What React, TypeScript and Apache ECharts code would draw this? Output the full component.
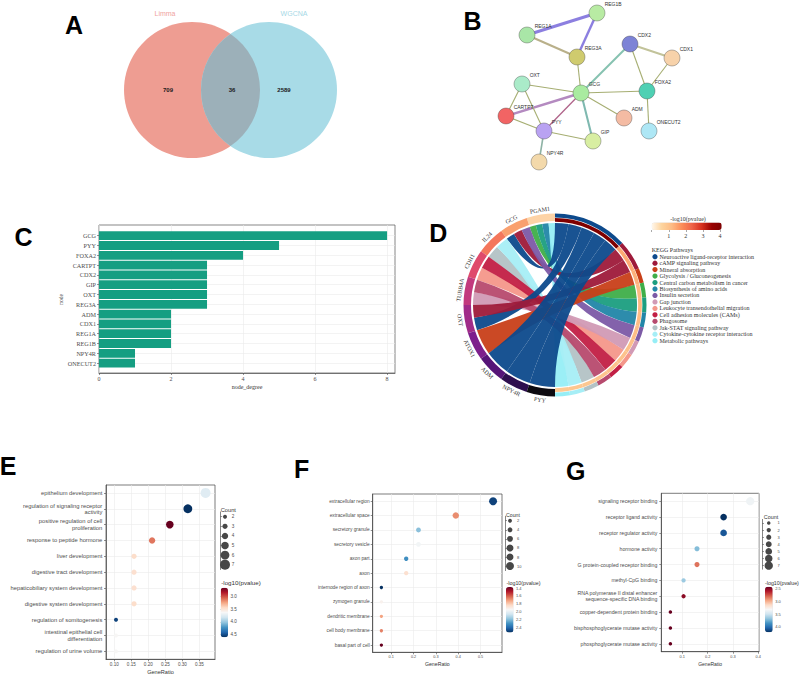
import React, { useEffect, useRef } from 'react';
import * as echarts from 'echarts';

const SANS = "'Liberation Sans', Arial, Helvetica, sans-serif";
const SERIF = "'Liberation Serif', 'Times New Roman', Times, serif";

// ---------------- A: Venn ----------------
const vennSets = ['Limma', 'WGCNA'];
const vennCounts = [709, 36, 2589]; // Limma only, shared, WGCNA only

// ---------------- B: PPI network ----------------
const netNodes = ['REG1B', 'REG1A', 'REG3A', 'CDX2', 'CDX1', 'OXT', 'GCG', 'FOXA2', 'CARTPT', 'ADM', 'PYY', 'ONECUT2', 'GIP', 'NPY4R'];
// node layout
const netNodeX = [597, 527, 577, 630, 672, 522, 581, 647, 506, 624, 544, 649, 593, 539];
const netNodeY = [13, 35, 57, 44, 58, 84, 93, 91, 116, 118, 131, 131, 141, 162];
const netEdges = [
  ['REG1B', 'REG1A'], ['REG1B', 'REG3A'], ['REG1A', 'REG3A'], ['REG3A', 'GCG'],
  ['GCG', 'CDX2'], ['CDX2', 'CDX1'], ['CDX2', 'FOXA2'], ['CDX1', 'FOXA2'],
  ['GCG', 'FOXA2'], ['FOXA2', 'ONECUT2'], ['GCG', 'OXT'], ['GCG', 'CARTPT'],
  ['GCG', 'PYY'], ['GCG', 'ADM'], ['GCG', 'GIP'], ['OXT', 'CARTPT'],
  ['OXT', 'PYY'], ['CARTPT', 'PYY'], ['PYY', 'GIP'], ['PYY', 'NPY4R'],
];

// ---------------- C: node degree ----------------
const degreeGenes = ['GCG', 'PYY', 'FOXA2', 'CARTPT', 'CDX2', 'GIP', 'OXT', 'REG3A', 'ADM', 'CDX1', 'REG1A', 'REG1B', 'NPY4R', 'ONECUT2'];
const degreeValues = [8, 5, 4, 3, 3, 3, 3, 3, 2, 2, 2, 2, 1, 1];
const degreeTicks = [0, 2, 4, 6, 8];

// ---------------- D: KEGG chord ----------------
const chordGenes = ['PGAM1', 'GCG', 'IL24', 'CDH1', 'TUBB4A', 'OXT', 'ATOX1', 'ADM', 'NPY4R', 'PYY'];
const keggPathways = [
  'Neuroactive ligand-receptor interaction', 'cAMP signaling pathway', 'Mineral absorption',
  'Glycolysis / Gluconeogenesis', 'Central carbon metabolism in cancer', 'Biosynthesis of amino acids',
  'Insulin secretion', 'Gap junction', 'Leukocyte transendothelial migration',
  'Cell adhesion molecules (CAMs)', 'Phagosome', 'Jak-STAT signaling pathway',
  'Cytokine-cytokine receptor interaction', 'Metabolic pathways',
];
const keggLog10P = [4.1, 1.4, 1.3, 1.2, 1.2, 1.15, 1.1, 1.05, 1.0, 1.0, 0.95, 0.9, 0.9, 0.85];
const chordLinks = [
  ['PGAM1', 'Glycolysis / Gluconeogenesis'], ['PGAM1', 'Central carbon metabolism in cancer'],
  ['PGAM1', 'Biosynthesis of amino acids'], ['PGAM1', 'Metabolic pathways'],
  ['GCG', 'Neuroactive ligand-receptor interaction'], ['GCG', 'cAMP signaling pathway'], ['GCG', 'Insulin secretion'],
  ['IL24', 'Jak-STAT signaling pathway'], ['IL24', 'Cytokine-cytokine receptor interaction'],
  ['CDH1', 'Leukocyte transendothelial migration'], ['CDH1', 'Cell adhesion molecules (CAMs)'],
  ['TUBB4A', 'Gap junction'], ['TUBB4A', 'Phagosome'],
  ['OXT', 'Neuroactive ligand-receptor interaction'], ['OXT', 'cAMP signaling pathway'],
  ['ATOX1', 'Mineral absorption'],
  ['ADM', 'Neuroactive ligand-receptor interaction'],
  ['NPY4R', 'Neuroactive ligand-receptor interaction'],
  ['PYY', 'Neuroactive ligand-receptor interaction'],
];
const keggScaleTicks = [0, 1, 2, 3, 4];

// ---------------- E: GO BP ----------------
const eTerms = [
  'epithelium development', 'regulation of signaling receptor\nactivity', 'positive regulation of cell\nproliferation',
  'response to peptide hormone', 'liver development', 'digestive tract development',
  'hepaticobiliary system development', 'digestive system development', 'regulation of somitogenesis',
  'intestinal epithelial cell\ndifferentiation', 'regulation of urine volume',
];
const eRatio = [0.368, 0.316, 0.263, 0.211, 0.158, 0.158, 0.158, 0.158, 0.105, 0.105, 0.105];
const eCount = [7, 6, 5, 4, 3, 3, 3, 3, 2, 2, 2];
const eLogP = [3.75, 4.62, 2.64, 3.1, 3.45, 3.47, 3.47, 3.45, 4.55, 3.62, 3.62];
const eTicks = [0.1, 0.15, 0.2, 0.25, 0.3, 0.35];
const eCountBreaks = [2, 3, 4, 5, 6, 7];
const eColorTicks = [3.0, 3.5, 4.0, 4.5];

// ---------------- F: GO CC ----------------
const fTerms = [
  'extracellular region', 'extracellular space', 'secretory granule', 'secretory vesicle', 'axon part', 'axon',
  'internode region of axon', 'zymogen granule', 'dendritic membrane', 'cell body membrane', 'basal part of cell',
];
const fRatio = [0.556, 0.389, 0.222, 0.222, 0.167, 0.167, 0.056, 0.056, 0.056, 0.056, 0.056];
const fCount = [10, 7, 4, 4, 3, 3, 1, 1, 1, 1, 1];
const fLogP = [2.5, 1.68, 2.2, 1.97, 2.32, 1.86, 2.54, 1.93, 1.72, 1.66, 1.37];
const fTicks = [0.1, 0.2, 0.3, 0.4, 0.5];
const fCountBreaks = [2, 4, 6, 8, 8, 10];
const fColorTicks = [1.4, 1.6, 1.8, 2.0, 2.2, 2.4];

// ---------------- G: GO MF ----------------
const gTerms = [
  'signaling receptor binding', 'receptor ligand activity', 'receptor regulator activity', 'hormone activity',
  'G protein-coupled receptor binding', 'methyl-CpG binding',
  'RNA polymerase II distal enhancer\nsequence-specific DNA binding', 'copper-dependent protein binding',
  'bisphosphoglycerate mutase activity', 'phosphoglycerate mutase activity',
];
const gRatio = [0.368, 0.263, 0.263, 0.158, 0.158, 0.105, 0.105, 0.053, 0.053, 0.053];
const gCount = [7, 5, 5, 3, 3, 2, 2, 1, 1, 1];
const gLogP = [3.35, 4.21, 4.08, 3.7, 2.82, 3.64, 2.5, 2.41, 2.41, 2.41];
const gTicks = [0.1, 0.2, 0.3, 0.4];
const gCountBreaks = [1, 2, 3, 4, 5, 6, 7];
const gColorTicks = [2.5, 3.0, 3.5, 4.0];

// ---------------- styles ----------------
const nodeColors: Record<string, string> = {
  REG1B: '#B8EBA3', REG1A: '#A9E6A7', REG3A: '#CFCB6E', CDX2: '#7D83D6', CDX1: '#F7D2AA', OXT: '#AAEBC9',
  GCG: '#A9EBA0', FOXA2: '#4FD0B3', CARTPT: '#F26464', ADM: '#F4BBA3', PYY: '#B9A2F2', ONECUT2: '#AEE7F5',
  GIP: '#D8EEA2', NPY4R: '#F3D9AB',
};
const edgeStyles: Record<string, { color: string; width: number }> = {
  'REG1B-REG1A': { color: '#8C7FE0', width: 3 },
  'REG1B-REG3A': { color: '#8C7FE0', width: 2.4 },
  'REG1A-REG3A': { color: '#B9B08A', width: 2 },
  'GCG-CARTPT': { color: '#B48AC0', width: 2.4 },
  'GCG-CDX2': { color: '#86C2B0', width: 2 },
  'GCG-GIP': { color: '#7FB9B0', width: 2 },
  'CDX2-CDX1': { color: '#C2C39A', width: 2 },
  'PYY-NPY4R': { color: '#8FB3A6', width: 1.6 },
  'GCG-PYY': { color: '#B0648A', width: 1.3 },
};
const geneColors = ['#FDD3A6', '#F9A06F', '#F4775C', '#DF4A6C', '#C23A7E', '#A02C89', '#7D1F8C', '#561578', '#2E0F4E', '#0C0A10'];
const keggColors = ['#0D4A8C', '#9E1A3A', '#C83F19', '#3FAE49', '#1B9E80', '#2286A8', '#7C5AA6', '#D19AB5', '#F4978A', '#C21F45', '#B74A6E', '#B3C2C5', '#A6EEF6', '#96EEF6'];
const ORRD = ['#FFF7EC', '#FDD49E', '#FDBB84', '#FC8D59', '#EF6548', '#D7301F', '#990000', '#7F0000'];
const RDBU = ['#67001f', '#b2182b', '#d6604d', '#f4a582', '#fddbc7', '#f7f7f7', '#d1e5f0', '#92c5de', '#4393c3', '#2166ac', '#053061'];

// ---------------- chord geometry ----------------
const CH = { cx: 555, cy: 305, rRib: 82, rGene0: 84, rGene1: 91.5, rPv0: 83.2, rPv1: 86.9, rPw0: 87.4, rPw1: 91.5, rLab: 96 };
function polar(r: number, deg: number) {
  const a = (deg * Math.PI) / 180;
  return [CH.cx + r * Math.cos(a), CH.cy - r * Math.sin(a)];
}
function bandPath(r0: number, r1: number, a0: number, a1: number) {
  const large = a1 - a0 > 180 ? 1 : 0;
  const p0 = polar(r1, a0), p1 = polar(r1, a1), p2 = polar(r0, a1), p3 = polar(r0, a0);
  return `M${p0[0]} ${p0[1]} A${r1} ${r1} 0 ${large} 0 ${p1[0]} ${p1[1]} L${p2[0]} ${p2[1]} A${r0} ${r0} 0 ${large} 1 ${p3[0]} ${p3[1]} Z`;
}
function chordLayout() {
  const gSpan = 180 / chordGenes.length;
  const unit = 180 / chordLinks.length;
  const termCount = keggPathways.map((p) => chordLinks.filter((l) => l[1] === p).length);
  const termStart: number[] = [];
  let cum = 0;
  keggPathways.forEach((_, i) => { termStart.push(90 - unit * cum); cum += termCount[i]; });
  const ribbons = chordLinks.map(([g, p]) => {
    const gi = chordGenes.indexOf(g), pi = keggPathways.indexOf(p);
    const gl = chordLinks.filter((l) => l[0] === g).map((l) => keggPathways.indexOf(l[1])).sort((a, b) => b - a);
    const k = gl.indexOf(pi), n = gl.length;
    const ga0 = 90 + gSpan * gi + (gSpan * k) / n, ga1 = 90 + gSpan * gi + (gSpan * (k + 1)) / n;
    const tl = chordLinks.filter((l) => l[1] === p).map((l) => chordGenes.indexOf(l[0])).sort((a, b) => a - b);
    const m = tl.indexOf(gi);
    const thi = termStart[pi] - unit * m, tlo = thi - unit;
    return { pi, ga0, ga1, tlo, thi };
  });
  return { gSpan, unit, termCount, termStart, ribbons };
}
function ribbonPath(rb: any) {
  const r = CH.rRib;
  const A = polar(r, rb.ga0), B = polar(r, rb.ga1), C = polar(r, rb.tlo), D = polar(r, rb.thi);
  return `M${A[0]} ${A[1]} A${r} ${r} 0 0 0 ${B[0]} ${B[1]} Q${CH.cx} ${CH.cy} ${C[0]} ${C[1]} A${r} ${r} 0 0 0 ${D[0]} ${D[1]} Q${CH.cx} ${CH.cy} ${A[0]} ${A[1]} Z`;
}

function buildOption(): any {
  const grid: any[] = [], xAxis: any[] = [], yAxis: any[] = [], series: any[] = [], visualMap: any[] = [], elements: any[] = [];
  const addGrid = (g: any, xa: any, ya: any) => {
    grid.push({ outerBoundsMode: 'none', containLabel: false, ...g });
    const i = grid.length - 1;
    xAxis.push({ ...xa, gridIndex: i });
    yAxis.push({ ...ya, gridIndex: i });
    return i;
  };
  const hiddenVal = (min = 0, max = 1) => ({ type: 'value', min, max, show: false, splitLine: { show: false } });
  const text = (t: string, x: number, y: number, o: any = {}) => ({
    type: 'text', x, y, silent: true,
    style: { text: t, fill: '#333', fontSize: 6, fontFamily: SANS, align: 'center', verticalAlign: 'middle', ...o },
  });

  // ---- panel letters
  [['A', 74, 25], ['B', 472.5, 20.5], ['C', 23.5, 237], ['D', 438.3, 233.3], ['E', 8, 466], ['F', 301.7, 468.8], ['G', 575.8, 470.5]].forEach(
    ([t, x, y]) => elements.push(text(t as string, x as number, y as number, { fontSize: 25, fontWeight: 'bold', fill: '#000' }))
  );

  // ---- A: Venn
  series.push({
    type: 'custom', coordinateSystem: 'none', silent: true, data: [vennCounts[0]],
    renderItem: () => {
      const cy = 90, r = 68, lx = 192, rx = 269;
      const xm = (lx + rx) / 2, h = Math.sqrt(r * r - ((rx - lx) / 2) ** 2);
      const lens = `M${xm} ${cy - h} A${r} ${r} 0 0 1 ${xm} ${cy + h} A${r} ${r} 0 0 1 ${xm} ${cy - h} Z`;
      const num = (t: number, x: number) => ({
        type: 'text', x, y: cy,
        style: { text: String(t), fill: '#1a1a1a', fontSize: 6, fontWeight: 'bold', fontFamily: SANS, align: 'center', verticalAlign: 'middle' },
      });
      return {
        type: 'group',
        children: [
          { type: 'circle', shape: { cx: lx, cy, r }, style: { fill: '#EE9D92' } },
          { type: 'circle', shape: { cx: rx, cy, r }, style: { fill: '#A8DBE7' } },
          { type: 'path', shape: { pathData: lens }, style: { fill: '#9CB0B9' } },
          num(vennCounts[0], lx - 24), num(vennCounts[1], xm + 1.5), num(vennCounts[2], rx + 15),
          { type: 'text', x: lx - 27, y: 13, style: { text: vennSets[0], fill: '#EFA3A0', fontSize: 7, fontFamily: SANS, align: 'center', verticalAlign: 'middle' } },
          { type: 'text', x: rx + 25, y: 13, style: { text: vennSets[1], fill: '#A5D8E6', fontSize: 7, fontFamily: SANS, align: 'center', verticalAlign: 'middle' } },
        ],
      };
    },
  });

  // ---- B: network
  const minX = Math.min(...netNodeX), maxX = Math.max(...netNodeX), minY = Math.min(...netNodeY), maxY = Math.max(...netNodeY);
  series.push({
    type: 'graph', layout: 'none', left: minX, top: minY, width: maxX - minX, height: maxY - minY,
    roam: false, silent: true, symbolSize: 16, edgeSymbol: ['none', 'none'],
    data: netNodes.map((n, i) => ({
      name: n, x: netNodeX[i], y: netNodeY[i],
      itemStyle: { color: nodeColors[n], borderColor: 'rgba(70,70,70,0.55)', borderWidth: 0.7, opacity: 1 },
    })),
    links: netEdges.map(([s, t]) => {
      const st = edgeStyles[`${s}-${t}`] || { color: '#A6AE72', width: 1.1 };
      return { source: s, target: t, lineStyle: { color: st.color, width: st.width, opacity: 1, curveness: 0 } };
    }),
    label: { show: true, position: [16, -3], fontSize: 5, fontFamily: SANS, color: '#333' },
    emphasis: { disabled: true },
  });

  // ---- C: degree bars (frame grid + bar grid)
  addGrid(
    { left: 99, top: 225, width: 296, height: 148, show: true, borderColor: '#555', borderWidth: 0.7 },
    {
      type: 'value', min: 0, max: 8.22, position: 'bottom',
      axisLine: { show: true, lineStyle: { color: '#4d4d4d', width: 0.7 } },
      axisTick: { show: true, length: 2, customValues: degreeTicks, lineStyle: { color: '#4d4d4d', width: 0.6 } },
      axisLabel: { customValues: degreeTicks, fontFamily: SERIF, fontSize: 6, color: '#4d4d4d', margin: 3 },
      splitLine: { show: true, lineStyle: { color: '#EBEBEB', width: 0.6 } },
      name: 'node_degree', nameLocation: 'middle', nameGap: 10.5, nameTextStyle: { fontFamily: SERIF, fontSize: 6, color: '#333' },
    },
    hiddenVal()
  );
  const cBar = addGrid(
    { left: 99, top: 230.8, width: 296, height: 137.2 },
    hiddenVal(0, 8.22),
    {
      type: 'category', data: degreeGenes, inverse: true,
      axisLine: { show: false },
      axisTick: { show: true, alignWithLabel: true, length: 2, lineStyle: { color: '#4d4d4d', width: 0.6 } },
      axisLabel: { interval: 0, fontFamily: SERIF, fontSize: 6.2, color: '#4d4d4d', margin: 3 },
      splitLine: { show: true, alignWithLabel: true, lineStyle: { color: '#EBEBEB', width: 0.6 } },
      name: 'node', nameLocation: 'middle', nameGap: 31, nameRotate: 90, nameTextStyle: { fontFamily: SERIF, fontSize: 5.5, color: '#333' },
    }
  );
  series.push({
    type: 'bar', xAxisIndex: cBar, yAxisIndex: cBar, data: degreeValues, barCategoryGap: '10%',
    itemStyle: { color: '#159E82' }, silent: true,
  });

  // ---- D: chord
  const lay = chordLayout();
  series.push({
    type: 'custom', coordinateSystem: 'none', silent: true, data: lay.ribbons.map((_, i) => i),
    renderItem: (params: any) => {
      const rb = lay.ribbons[params.dataIndex];
      return { type: 'path', shape: { pathData: ribbonPath(rb) }, style: { fill: keggColors[rb.pi], opacity: 0.95 } };
    },
  });
  series.push({
    type: 'custom', coordinateSystem: 'none', silent: true, data: chordGenes.map((_, i) => i),
    renderItem: (params: any) => {
      const gi = params.dataIndex;
      const a0 = 90 + lay.gSpan * gi, a1 = a0 + lay.gSpan, mid = (a0 + a1) / 2;
      const p = polar(CH.rLab, mid);
      const rot = ((mid <= 180 ? mid - 90 : mid - 270) * Math.PI) / 180;
      return {
        type: 'group',
        children: [
          { type: 'path', shape: { pathData: bandPath(CH.rGene0, CH.rGene1, a0, a1) }, style: { fill: geneColors[gi] } },
          { type: 'text', x: p[0], y: p[1], rotation: rot, style: { text: chordGenes[gi], fontSize: 6, fontFamily: SERIF, fill: '#333', align: 'center', verticalAlign: 'middle' } },
        ],
      };
    },
  });
  series.push({
    type: 'custom', coordinateSystem: 'none', silent: true, data: keggPathways.map((_, i) => i),
    renderItem: (params: any) => {
      const pi = params.dataIndex;
      const a1 = lay.termStart[pi], a0 = a1 - lay.unit * lay.termCount[pi];
      return { type: 'path', shape: { pathData: bandPath(CH.rPw0, CH.rPw1, a0, a1) }, style: { fill: keggColors[pi] } };
    },
  });
  const pvIdx = series.length;
  series.push({
    type: 'custom', coordinateSystem: 'none', silent: true, data: keggLog10P,
    renderItem: (params: any, api: any) => {
      const pi = params.dataIndex;
      const a1 = lay.termStart[pi], a0 = a1 - lay.unit * lay.termCount[pi];
      return { type: 'path', shape: { pathData: bandPath(CH.rPv0, CH.rPv1, a0, a1) }, style: { fill: api.visual('color') } };
    },
  });
  visualMap.push({
    type: 'continuous', seriesIndex: pvIdx, dimension: 0, min: 0, max: 4.1, orient: 'horizontal',
    left: 651.7, top: 222.5, itemWidth: 7.5, itemHeight: 70, calculable: false, hoverLink: false, padding: 0,
    inRange: { color: ORRD },
  });
  addGrid(
    { left: 651.7, top: 222.5, width: 70, height: 7.5 },
    {
      type: 'value', min: 0, max: 4.1, position: 'bottom',
      axisLine: { show: false },
      axisTick: { show: true, length: 2, customValues: keggScaleTicks, lineStyle: { color: '#555', width: 0.5 } },
      axisLabel: { customValues: keggScaleTicks.filter((v) => v > 0), fontFamily: SERIF, fontSize: 6, color: '#333', margin: 3 },
      splitLine: { show: false },
    },
    hiddenVal()
  );
  elements.push(text('-log10(pvalue)', 688, 218.5, { fontFamily: SERIF, fontSize: 6 }));
  elements.push(text('KEGG Pathways', 651.7, 249.5, { fontFamily: SERIF, fontSize: 6, align: 'left' }));
  keggPathways.forEach((p, i) => {
    const y = 256.7 + 6.46 * i;
    elements.push({ type: 'circle', silent: true, shape: { cx: 655, cy: y, r: 2.6 }, style: { fill: keggColors[i] } });
    elements.push(text(p, 659.5, y, { fontFamily: SERIF, fontSize: 6, align: 'left' }));
  });

  // ---- dot panels
  const dotPanel = (cfg: any) => {
    const {
      terms, ratio, count, logp, ticks, tickFmt, xr, box, labelSize, labelMargin, tickSize, tickMargin, nameSize, nameGap,
      sizeFn, countBreaks, countBox, cRange, cTicks, cBox, legSize,
    } = cfg;
    const gi = addGrid(
      { ...box, show: true, borderColor: '#444', borderWidth: 0.7 },
      {
        type: 'value', min: xr[0], max: xr[1],
        axisLine: { show: true, lineStyle: { color: '#444', width: 0.7 } },
        axisTick: { show: true, length: 2, customValues: ticks, lineStyle: { color: '#444', width: 0.6 } },
        axisLabel: { customValues: ticks, formatter: tickFmt, fontFamily: SANS, fontSize: tickSize, color: '#4d4d4d', margin: tickMargin },
        splitLine: { show: true, lineStyle: { color: '#EBEBEB', width: 0.6 } },
        name: 'GeneRatio', nameLocation: 'middle', nameGap, nameTextStyle: { fontFamily: SANS, fontSize: nameSize, color: '#333' },
      },
      {
        type: 'category', data: terms, inverse: true,
        axisLine: { show: true, lineStyle: { color: '#444', width: 0.7 } },
        axisTick: { show: true, alignWithLabel: true, length: 2, lineStyle: { color: '#444', width: 0.6 } },
        axisLabel: { interval: 0, fontFamily: SANS, fontSize: labelSize, lineHeight: labelSize * 1.08, color: '#4d4d4d', margin: labelMargin },
        splitLine: { show: true, alignWithLabel: true, lineStyle: { color: '#EBEBEB', width: 0.6 } },
      }
    );
    const si = series.length;
    series.push({
      type: 'scatter', xAxisIndex: gi, yAxisIndex: gi, silent: true,
      data: terms.map((_: string, i: number) => [ratio[i], i, logp[i], count[i]]),
      symbolSize: (v: number[]) => sizeFn(v[3]),
      itemStyle: { opacity: 1 },
    });
    visualMap.push({
      type: 'continuous', seriesIndex: si, dimension: 2, min: cRange[0], max: cRange[1], inverse: true, orient: 'vertical',
      left: cBox.left, top: cBox.top, itemWidth: cBox.width, itemHeight: cBox.height,
      calculable: false, hoverLink: false, padding: 0, inRange: { color: RDBU },
    });
    // colorbar ticks
    addGrid(
      { ...cBox },
      hiddenVal(),
      {
        type: 'value', min: cRange[0], max: cRange[1], inverse: true, position: 'right',
        axisLine: { show: false },
        axisTick: { show: true, length: 1.5, customValues: cTicks, lineStyle: { color: '#333', width: 0.5 } },
        axisLabel: { customValues: cTicks, formatter: (v: number) => v.toFixed(1), fontFamily: SANS, fontSize: legSize, color: '#4d4d4d', margin: 2.5 },
        splitLine: { show: false },
      }
    );
    // count legend
    const ci = addGrid(
      { ...countBox },
      hiddenVal(),
      {
        type: 'category', data: countBreaks.map(String), inverse: true, position: 'right',
        axisLine: { show: true, lineStyle: { color: '#333', width: 0.6 } },
        axisTick: { show: true, alignWithLabel: true, length: 1.5, lineStyle: { color: '#333', width: 0.5 } },
        axisLabel: { interval: 0, fontFamily: SANS, fontSize: legSize, color: '#4d4d4d', margin: 2.5 },
        splitLine: { show: false },
      }
    );
    series.push({
      type: 'scatter', xAxisIndex: ci, yAxisIndex: ci, silent: true,
      data: countBreaks.map((c: number, i: number) => [0.5, i, c]),
      symbolSize: (v: number[]) => sizeFn(v[2]),
      itemStyle: { color: '#474747', opacity: 1 },
    });
  };

  dotPanel({
    terms: eTerms, ratio: eRatio, count: eCount, logp: eLogP, ticks: eTicks, tickFmt: (v: number) => v.toFixed(2),
    xr: [0.0757, 0.3957], box: { left: 106, top: 485, width: 109, height: 174.3 },
    labelSize: 5.8, labelMargin: 3.7, tickSize: 4.6, tickMargin: 3, nameSize: 5.6, nameGap: 9.5,
    sizeFn: (c: number) => 1.6 + 1.2 * c, countBreaks: eCountBreaks,
    countBox: { left: 220.7, top: 511.9, width: 8.6, height: 57.6 },
    cRange: [2.64, 4.62], cTicks: eColorTicks, cBox: { left: 220.7, top: 587.7, width: 7.3, height: 49.6 }, legSize: 4.6,
  });
  elements.push(text('Count', 228.3, 510, { fontSize: 5.7 }));
  elements.push(text('-log10(pvalue)', 241, 582.3, { fontSize: 6.2 }));

  dotPanel({
    terms: fTerms, ratio: fRatio, count: fCount, logp: fLogP, ticks: fTicks, tickFmt: (v: number) => v.toFixed(1),
    xr: [0.0171, 0.5959], box: { left: 372.7, top: 494, width: 129.3, height: 158.3 },
    labelSize: 4.8, labelMargin: 3, tickSize: 3.8, tickMargin: 2.5, nameSize: 5.2, nameGap: 9.2,
    sizeFn: (c: number) => 2.8 + 0.52 * c, countBreaks: fCountBreaks,
    countBox: { left: 505.5, top: 516.2, width: 9, height: 54.4 },
    cRange: [1.37, 2.54], cTicks: fColorTicks, cBox: { left: 506, top: 587, width: 7.5, height: 45.5 }, legSize: 4,
  });
  elements.push(text('Count', 513, 514.5, { fontSize: 5.2 }));
  elements.push(text('-log10(pvalue)', 523.5, 582.5, { fontSize: 5.3 }));

  dotPanel({
    terms: gTerms, ratio: gRatio, count: gCount, logp: gLogP, ticks: gTicks, tickFmt: (v: number) => v.toFixed(1),
    xr: [0.0171, 0.4027], box: { left: 661.3, top: 493.3, width: 97.7, height: 158.4 },
    labelSize: 5.2, labelMargin: 4, tickSize: 3.9, tickMargin: 3, nameSize: 5, nameGap: 9.3,
    sizeFn: (c: number) => 2.7 + 0.8 * c, countBreaks: gCountBreaks,
    countBox: { left: 762.5, top: 519.4, width: 12.5, height: 49.8 },
    cRange: [2.41, 4.21], cTicks: gColorTicks, cBox: { left: 765, top: 586.7, width: 7.7, height: 45.6 }, legSize: 4,
  });
  elements.push(text('Count', 771, 516.5, { fontSize: 5.4 }));
  elements.push(text('-log10(pvalue)', 765, 582.7, { fontSize: 5.3, align: 'left' }));

  return {
    animation: false,
    backgroundColor: '#ffffff',
    grid, xAxis, yAxis, series, visualMap,
    graphic: { elements },
  };
}

export default function App() {
  const ref = useRef<HTMLDivElement>(null);
  useEffect(() => {
    if (!ref.current) return;
    const chart = echarts.init(ref.current, null, { renderer: 'svg' });
    chart.setOption(buildOption());
    return () => chart.dispose();
  }, []);
  return <div ref={ref} style={{ position: 'absolute', left: 0, top: 0, width: 800, height: 676, background: '#fff' }} />;
}
